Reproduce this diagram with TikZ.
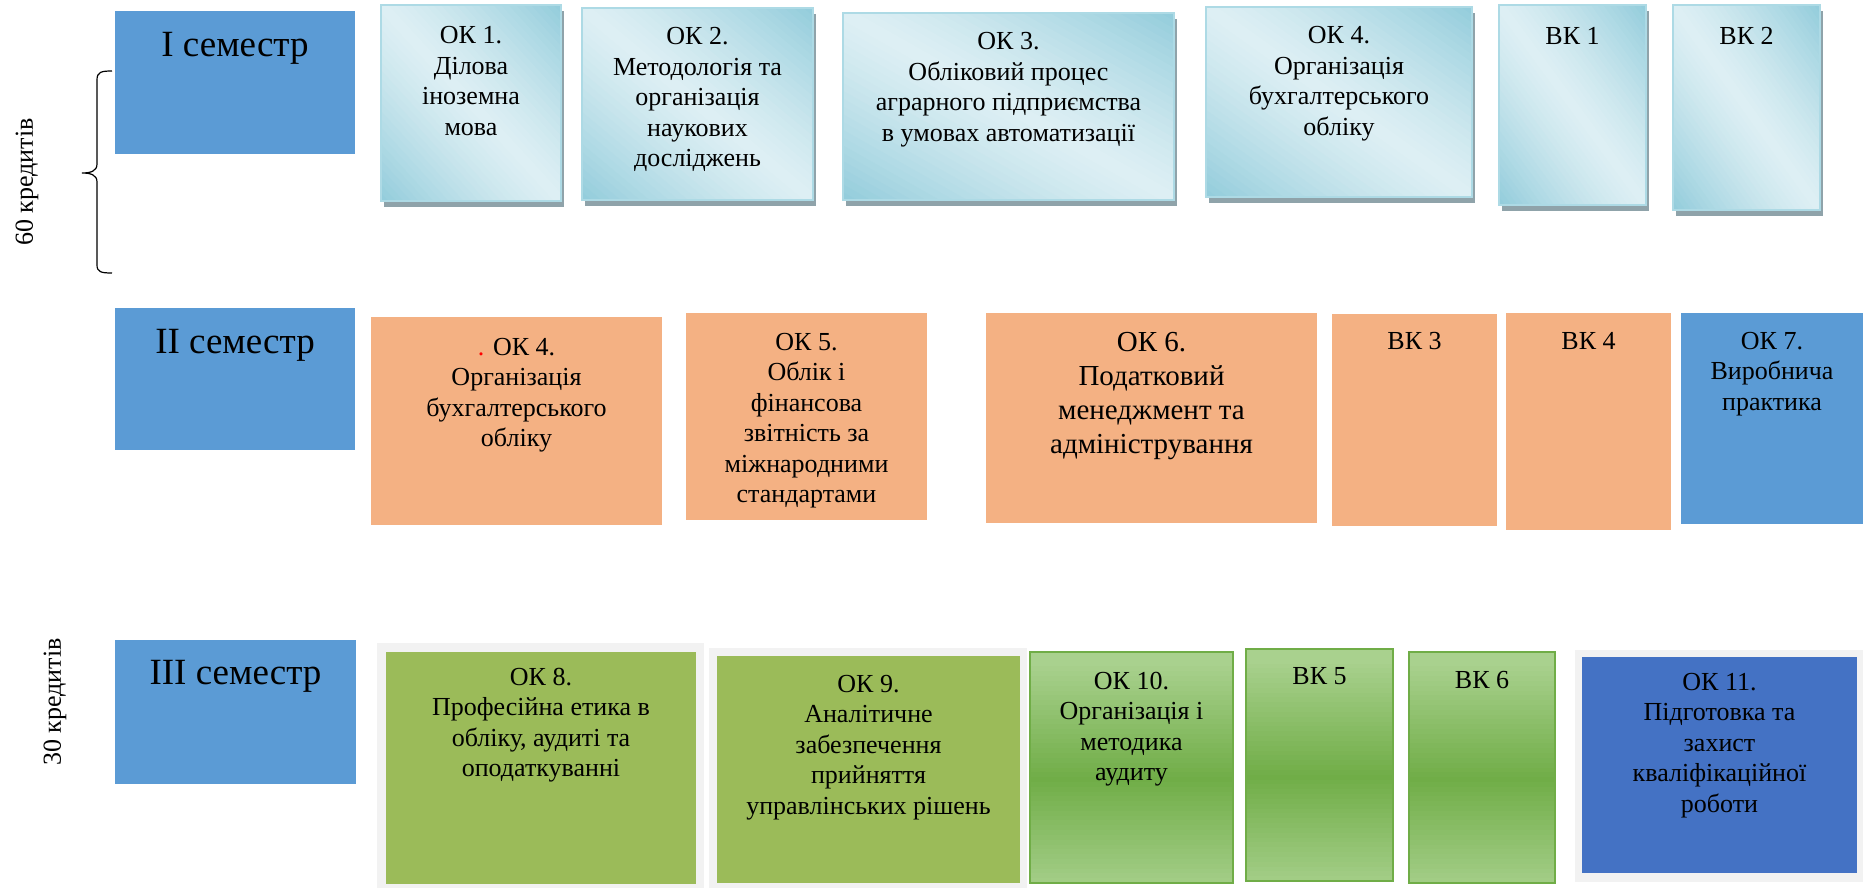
\documentclass[tikz,border=0pt]{standalone}
\usepackage{fontspec}
\setmainfont{Liberation Serif}
\newfontfamily\docserif{Liberation Serif}
\usetikzlibrary{fit}
\definecolor{semblue}{HTML}{5B9BD5}
\definecolor{lbdark}{HTML}{92CCDB}
\definecolor{lblight}{HTML}{DDEFF4}
\definecolor{lbborder}{HTML}{ADDAE5}
\definecolor{lbshadow}{HTML}{8FA3AA}
\definecolor{orangec}{HTML}{F4B183}
\definecolor{framegrey}{HTML}{F2F2F2}
\definecolor{greenc}{HTML}{9BBB59}
\definecolor{glight}{HTML}{A9D18E}
\definecolor{gdark}{HTML}{70AD47}
\definecolor{ok11blue}{HTML}{4472C4}
% diagonal light-blue gradient: dark at top-right and bottom-left, light along the other diagonal
\newcommand\lbgradfill[4]{%
  \begin{scope}
  \clip (#1,#2) rectangle (#3,#4);
  \foreach \gpI in {0,...,47}{
    \pgfmathsetmacro\gpA{\gpI/48*2-1}
    \pgfmathsetmacro\gpB{(\gpI+1.3)/48*2-1}
    \pgfmathsetmacro\gpP{100*(abs((\gpI+0.5)/48*2-1))^1.3}
    \fill[lbdark!\gpP!lblight]
      ({#1-(#3-#1)},{#2+(#4-#2)*(-1+\gpA)}) -- ({#1+2*(#3-#1)},{#2+(#4-#2)*(2+\gpA)})
      -- ({#1+2*(#3-#1)},{#2+(#4-#2)*(2+\gpB)}) -- ({#1-(#3-#1)},{#2+(#4-#2)*(-1+\gpB)}) -- cycle;
  }
  \end{scope}}
% vertical green gradient: light at top and bottom, dark in the middle
\newcommand\ggradfill[4]{%
  \begin{scope}
  \clip (#1,#2) rectangle (#3,#4);
  \foreach \gpI in {0,...,47}{
    \pgfmathsetmacro\gpA{#2+(#4-#2)*\gpI/48}
    \pgfmathsetmacro\gpB{#2+(#4-#2)*(\gpI+1.3)/48}
    \pgfmathsetmacro\gpP{100*max(0,1-abs((\gpI+0.5)/48*2-1.1))}
    \fill[gdark!\gpP!glight] (#1,\gpA) rectangle (#3,\gpB);
  }
  \end{scope}}
\begin{document}
\begin{tikzpicture}[x=1pt,y=-1pt,
  semstyle/.style={fill=semblue, draw=none, inner sep=0pt},
  lbbox/.style={draw=lbborder, line width=1.8pt, inner sep=0pt},
  lbshad/.style={fill=lbshadow},
  orbox/.style={fill=orangec, draw=none, inner sep=0pt},
  blbox/.style={fill=semblue, draw=none, inner sep=0pt},
  framebox/.style={fill=framegrey, draw=none, inner sep=0pt},
  gbox/.style={fill=greenc, draw=none, inner sep=0pt},
  ggrad/.style={draw=gdark, line width=2pt, inner sep=0pt},
  dbbox/.style={fill=ok11blue, draw=none, inner sep=0pt},
  txt/.style={font=\docserif\fontsize{26}{30.5}\selectfont, align=center, inner sep=0pt, anchor=north},
  semtxt/.style={font=\docserif\fontsize{37}{44}\selectfont, inner sep=0pt, anchor=north},
  credtxt/.style={font=\docserif\fontsize{26}{31}\selectfont, inner sep=0pt, rotate=90}
]
\useasboundingbox (0,0) rectangle (1863,888);

% ---------- Row 1 ----------
\node[semstyle, fit={(115,11) (355,154)}] (s1) {};
\node[semtxt] (s1t) at ([yshift=-21pt]s1.north) {I семестр};

% shadows
\fill[lbshad] (384,11) rectangle (564,207);
\fill[lbshad] (585,14) rectangle (816,206);
\fill[lbshad] (846,19) rectangle (1177,206);
\fill[lbshad] (1209,13) rectangle (1475,203);
\fill[lbshad] (1502,11) rectangle (1649,211);
\fill[lbshad] (1676,11) rectangle (1823,216);
% gradients
\lbgradfill{381}{5}{561}{201}
\lbgradfill{582}{8}{813}{200}
\lbgradfill{843}{13}{1174}{200}
\lbgradfill{1206}{7}{1472}{197}
\lbgradfill{1499}{5}{1646}{205}
\lbgradfill{1673}{5}{1820}{210}

\node[lbbox, fit={(381,5) (561,201)}] (ok1) {};
\node[lbbox, fit={(582,8) (813,200)}] (ok2) {};
\node[lbbox, fit={(843,13) (1174,200)}] (ok3) {};
\node[lbbox, fit={(1206,7) (1472,197)}] (ok4) {};
\node[lbbox, fit={(1499,5) (1646,205)}] (vk1) {};
\node[lbbox, fit={(1673,5) (1820,210)}] (vk2) {};

\node[txt] (ok1t) at ([yshift=-22pt]ok1.north) {ОК 1.\\Ділова\\іноземна\\мова};
\node[txt] (ok2t) at ([yshift=-20pt]ok2.north) {ОК 2.\\Методологія та\\організація\\наукових\\досліджень};
\node[txt] (ok3t) at ([yshift=-20pt]ok3.north) {ОК 3.\\Обліковий процес\\аграрного підприємства\\в умовах автоматизації};
\node[txt] (ok4t) at ([yshift=-20pt]ok4.north) {ОК 4.\\Організація\\бухгалтерського\\обліку};
\node[txt] (vk1t) at ([yshift=-23pt]vk1.north) {ВК 1};
\node[txt] (vk2t) at ([yshift=-23pt]vk2.north) {ВК 2};

% brace and credits
\draw[line width=1.2pt] (112,71) .. controls (101,71) and (97,72) .. (97,80) -- (97,164)
   .. controls (97,171) and (91,173) .. (82,173) .. controls (91,173) and (97,175) .. (97,182)
   -- (97,265) .. controls (97,272) and (101,273) .. (112,273);
\node[credtxt] (c60) at (27,182) {60 кредитів};

% ---------- Row 2 ----------
\node[semstyle, fit={(115,308) (355,450)}] (s2) {};
\node[semtxt] (s2t) at ([yshift=-21pt]s2.north) {II семестр};

\node[orbox, fit={(371,317) (662,525)}] (ok4b) {};
\node[orbox, fit={(686,313) (927,520)}] (ok5) {};
\node[orbox, fit={(986,313) (1317,523)}] (ok6) {};
\node[orbox, fit={(1332,314) (1497,526)}] (vk3) {};
\node[orbox, fit={(1506,313) (1671,530)}] (vk4) {};
\node[blbox, fit={(1681,313) (1863,524)}] (ok7) {};

\node[txt] (ok4bt) at ([yshift=-21pt]ok4b.north) {{\color{red}.} ОК 4.\\Організація\\бухгалтерського\\обліку};
\node[txt] (ok5t) at ([yshift=-20pt]ok5.north) {ОК 5.\\Облік і\\фінансова\\звітність за\\міжнародними\\стандартами};
\node[txt, font=\docserif\fontsize{29}{34}\selectfont] (ok6t) at ([yshift=-19pt]ok6.north) {ОК 6.\\Податковий\\менеджмент та\\адміністрування};
\node[txt] (vk3t) at ([yshift=-18pt]vk3.north) {ВК 3};
\node[txt] (vk4t) at ([yshift=-19pt]vk4.north) {ВК 4};
\node[txt] (ok7t) at ([yshift=-19pt]ok7.north) {ОК 7.\\Виробнича\\практика};

% ---------- Row 3 ----------
\node[semstyle, fit={(115,640) (356,784)}] (s3) {};
\node[semtxt] (s3t) at ([yshift=-20pt]s3.north) {III семестр};
\node[credtxt] (c30) at (55,702) {30 кредитів};

\node[framebox, fit={(377,643) (704,888)}] (ok8f) {};
\node[gbox, fit={(386,652) (696,884)}] (ok8) {};
\node[framebox, fit={(709,648) (1027,888)}] (ok9f) {};
\node[gbox, fit={(717,656) (1020,883)}] (ok9) {};
\ggradfill{1030}{652}{1233}{883}
\ggradfill{1246}{649}{1393}{881}
\ggradfill{1409}{652}{1555}{883}
\node[ggrad, fit={(1030,652) (1233,883)}] (ok10) {};
\node[ggrad, fit={(1246,649) (1393,881)}] (vk5) {};
\node[ggrad, fit={(1409,652) (1555,883)}] (vk6) {};
\node[framebox, fit={(1575,650) (1863,882)}] (ok11f) {};
\node[dbbox, fit={(1582,657) (1857,873)}] (ok11) {};

\node[txt] (ok8t) at ([yshift=-16pt]ok8.north) {ОК 8.\\Професійна етика в\\обліку, аудиті та\\оподаткуванні};
\node[txt] (ok9t) at ([yshift=-19pt]ok9.north) {ОК 9.\\Аналітичне\\забезпечення\\прийняття\\управлінських рішень};
\node[txt] (ok10t) at ([yshift=-21pt]ok10.north) {ОК 10.\\Організація і\\методика\\аудиту};
\node[txt] (vk5t) at ([yshift=-19pt]vk5.north) {ВК 5};
\node[txt] (vk6t) at ([yshift=-20pt]vk6.north) {ВК 6};
\node[txt] (ok11t) at ([yshift=-16pt]ok11.north) {ОК 11.\\Підготовка та\\захист\\кваліфікаційної\\роботи};
\end{tikzpicture}
\end{document}
